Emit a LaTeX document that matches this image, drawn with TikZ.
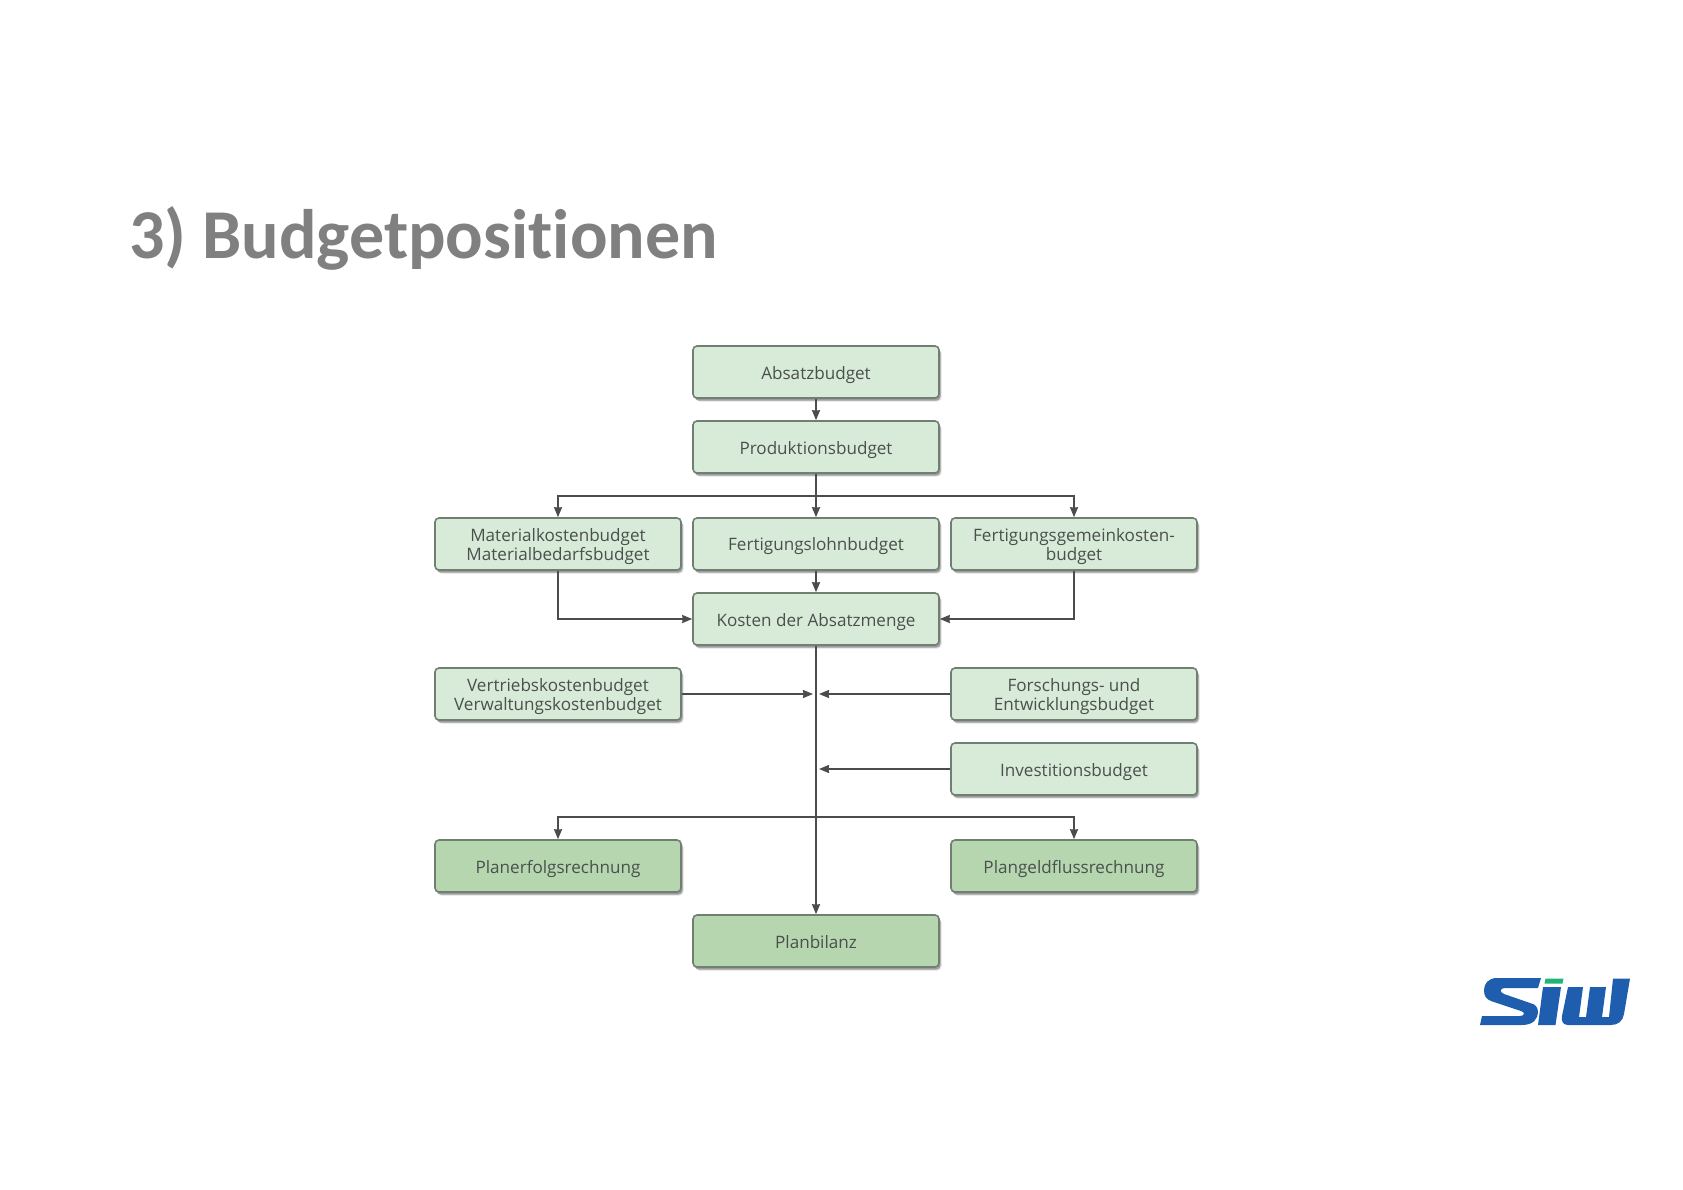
\documentclass[tikz,border=0pt]{standalone}
\usepackage{fontspec}
\setmainfont{Open Sans}
\newfontfamily\titlefont[Ligatures=NoCommon,Contextuals=NoAlternate]{Carlito}
\usetikzlibrary{arrows.meta,shadows,calc}
\definecolor{boxlight}{HTML}{D8EAD8}
\definecolor{boxdark}{HTML}{B6D6B0}
\definecolor{boxline}{HTML}{6F7F72}
\definecolor{txt}{HTML}{4A504C}
\definecolor{conn}{HTML}{4A4D4C}
\definecolor{siwblue}{HTML}{1F5DAE}
\definecolor{siwgreen}{HTML}{21B573}
\tikzset{
 x=1pt,y=-1pt,
 bud/.style={draw=boxline,line width=1.6pt,rounded corners=4pt,fill=boxlight,minimum width=246pt,minimum height=52pt,
   inner sep=0pt,align=center,text=txt,font=\fontsize{17.1}{18.3}\selectfont,
   text depth=0pt,
   general shadow={shadow xshift=2.5pt,shadow yshift=-3.5pt,fill=black,opacity=.12},
   drop shadow={shadow xshift=1.5pt,shadow yshift=-2.5pt,fill=black,opacity=.3}},
 plan/.style={bud,fill=boxdark},
 arr/.style={draw=conn,line width=1.6pt,-{Stealth[length=10pt,width=8pt,inset=.5pt]}},
}
\begin{document}
\begin{tikzpicture}
\useasboundingbox (0,0) rectangle (1683,1190);
\node[anchor=base west,inner sep=0pt,font=\titlefont\bfseries\fontsize{70}{72}\selectfont,text=black!50] (title) at (129,259) {3) Budgetpositionen};
\node[bud] (abs) at (816,372) {\raisebox{-2pt}{Absatzbudget}};
\node[bud] (prod) at (816,447) {\raisebox{-2pt}{Produktionsbudget}};
\node[bud] (mat) at (558,544) {\raisebox{-1pt}{Materialkostenbudget}\\\raisebox{-1pt}{Materialbedarfsbudget}};
\node[bud] (fert) at (816,544) {\raisebox{-1pt}{Fertigungslohnbudget}};
\node[bud] (gem) at (1074,544) {\raisebox{-1pt}{Fertigungsgemeinkosten-}\\\raisebox{-1pt}{budget}};
\node[bud] (kost) at (816,619) {\raisebox{-1pt}{Kosten der Absatzmenge}};
\node[bud] (vert) at (558,694) {\raisebox{-1pt}{Vertriebskostenbudget}\\\raisebox{-1pt}{Verwaltungskostenbudget}};
\node[bud] (fors) at (1074,694) {\raisebox{-1pt}{Forschungs- und}\\\raisebox{-1pt}{Entwicklungsbudget}};
\node[bud] (inv) at (1074,769) {\raisebox{-2pt}{Investitionsbudget}};
\node[plan] (erf) at (558,866) {\raisebox{-1pt}{Planerfolgsrechnung}};
\node[plan] (geld) at (1074,866) {\raisebox{-1pt}{Plangeldflussrechnung}};
\node[plan] (bil) at (816,941) {\raisebox{-1pt}{Planbilanz}};
\coordinate (b1) at (816,496);
\coordinate (b2) at (816,817);
\coordinate (v1) at (813,694);
\coordinate (f1) at (819,694);
\coordinate (i1) at (819,769);
\draw[arr] (abs) -- (prod);
\draw[arr] (prod) -- (fert);
\draw[arr] (b1) -| (mat);
\draw[arr] (b1) -| (gem);
\draw[arr] (fert) -- (kost);
\draw[arr] (mat) |- (kost);
\draw[arr] (gem) |- (kost);
\draw[arr] (kost) -- (bil);
\draw[arr] (vert) -- (v1);
\draw[arr] (fors) -- (f1);
\draw[arr] (inv) -- (i1);
\draw[arr] (b2) -| (erf);
\draw[arr] (b2) -| (geld);
% logo
\fill[siwblue] (1541,978) -- (1497,978) .. controls (1488,978) and (1484,984) .. (1484,990) .. controls (1484,996) and (1486,999) .. (1491,1001) -- (1521,1011) .. controls (1525,1012) and (1525,1016) .. (1520,1016) -- (1482,1016) -- (1480,1025) -- (1522,1025) .. controls (1534,1025) and (1538,1018) .. (1538,1012) .. controls (1538,1007) and (1535,1004) .. (1530,1003) -- (1504,994) .. controls (1499,992) and (1500,988) .. (1505,988) -- (1538,988) -- cycle;
\fill[siwgreen] (1545.5,978.5) -- (1563.5,978.5) -- (1562.5,983.5) -- (1544.5,983.5) -- cycle;
\fill[siwblue] (1543,987) -- (1561,987) -- (1555.5,1025) -- (1538,1025) -- cycle;
\fill[siwblue] (1568,987) -- (1583,987) -- (1579,1017) -- (1586,1017) -- (1590,987) -- (1606,987) -- (1602,1017) -- (1609,1017) -- (1613,978.5) -- (1630,978.5) -- (1624,1014) .. controls (1623,1021) and (1618,1025) .. (1611,1025) -- (1568,1025) .. controls (1563,1025) and (1561,1021) .. (1562,1016) -- cycle;
\end{tikzpicture}
\end{document}
